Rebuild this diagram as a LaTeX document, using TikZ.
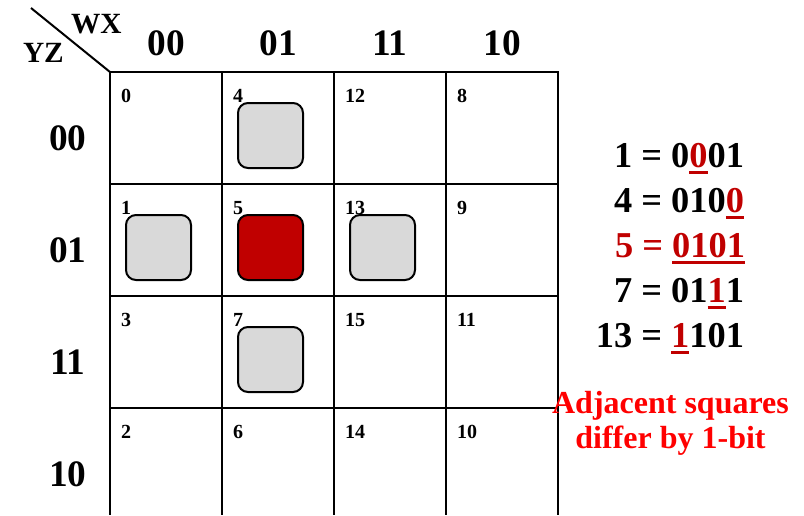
\documentclass[tikz,border=0pt]{standalone}
\usepackage{fontspec}
\setmainfont{Liberation Serif}
\definecolor{kred}{HTML}{C00000}
\definecolor{kgray}{HTML}{D9D9D9}
\newcommand{\bitul}[1]{\setbox0\hbox{#1}\rlap{\rule[-5.5pt]{\wd0}{2.6pt}}\box0}
\newcommand{\redbit}[1]{{\color{kred}\bitul{#1}}}
\begin{document}
\begin{tikzpicture}[x=0.75pt, y=-0.75pt, line width=1.5pt,
  big/.style={font=\fontsize{28}{30}\selectfont\bfseries, inner sep=0pt, anchor=base},
  cellnum/.style={font=\fontsize{15}{16}\selectfont\bfseries, inner sep=0pt, anchor=base west},
  varname/.style={font=\fontsize{22}{24}\selectfont\bfseries, inner sep=0pt, anchor=base west},
  pick/.style={draw, line width=1.5pt, rounded corners=7.5pt, fill=kgray, minimum size=48.75pt, inner sep=0pt},
  code/.style={font=\fontsize{27.3}{30}\selectfont\bfseries, inner sep=0pt, anchor=base east},
  note/.style={font=\fontsize{24}{26}\selectfont\bfseries, text=red, inner sep=0pt, anchor=base}]
\useasboundingbox (0,0) rectangle (804,515);
% grid
\foreach \i in {0,...,4} \draw (110+112*\i,72) -- (110+112*\i,515);
\foreach \j in {0,...,3} \draw[line cap=rect] (110,72+112*\j) -- (558,72+112*\j);
% corner label
\coordinate (diagtop) at (31,8);
\coordinate (corner) at (110,72);
\draw (diagtop) -- (corner);
\node[varname] (wx) at (70,33) {WX};
\node[varname] (yz) at (22,62) {YZ};
\foreach \lab [count=\k from 0] in {00,01,11,10} {
  \node[big] (wx\lab) at (166+112*\k,55) {\lab};
  \node[big] (yz\lab) at (68,150+112*\k) {\lab};
}
% minterm numbers
\foreach \row [count=\r from 0] in {{0,4,12,8},{1,5,13,9},{3,7,15,11},{2,6,14,10}} {
  \foreach \n [count=\c from 0] in \row
    \node[cellnum] (m\n) at (120+112*\c,102+112*\r) {\n};
}
% neighbours of 5
\node[pick] (s4) at (270.5,135.5) {};
\node[pick] (s1) at (158.5,247.5) {};
\node[pick, fill=kred] (s5) at (270.5,247.5) {};
\node[pick] (s13) at (382.5,247.5) {};
\node[pick] (s7) at (270.5,359.5) {};
% codes
\node[code] (b1) at (745,167) {1 = 0\redbit{0}01};
\node[code] (b4) at (745,212) {4 = 010\redbit{0}};
\node[code, text=kred] (b5) at (746,257) {5 = \bitul{0101}};
\node[code] (b7) at (745,302) {7 = 01\redbit{1}1};
\node[code] (b13) at (745,347) {13 = \redbit{1}101};
\node[note] (adj1) at (670.5,413) {Adjacent squares};
\node[note] (adj2) at (670.5,448) {differ by 1-bit};
\end{tikzpicture}
\end{document}
